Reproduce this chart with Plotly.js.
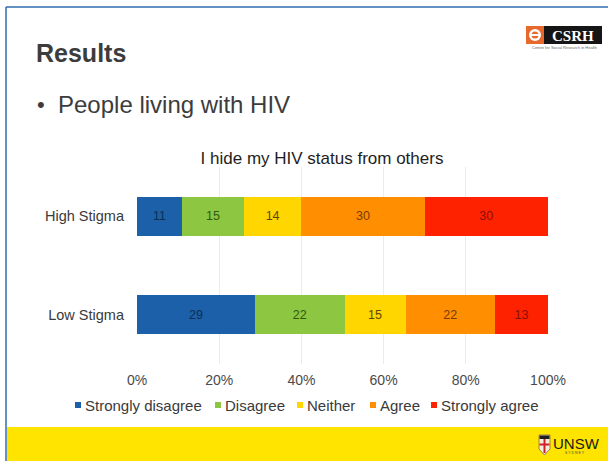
<!DOCTYPE html>
<html>
<head>
<meta charset="utf-8">
<script src="https://cdn.plot.ly/plotly-3.0.1.min.js"></script>
<style>html,body{margin:0;padding:0;background:#fff;}#chart{width:608px;height:461px;}</style>
</head>
<body>
<div id="chart"></div>
<script>
// ---- data ----
const groups = ['High Stigma', 'Low Stigma'];
const seriesNames = ['Strongly disagree', 'Disagree', 'Neither', 'Agree', 'Strongly agree'];
const stronglyDisagree = [11, 29];
const disagree = [15, 22];
const neither = [14, 15];
const agree = [30, 22];
const stronglyAgree = [30, 13];
const xTickVals = [0, 20, 40, 60, 80, 100];
const xTickText = ['0%', '20%', '40%', '60%', '80%', '100%'];
const chartTitle = 'I hide my HIV status from others';
const slideTitle = 'Results';
const bulletText = 'People living with HIV';

// ---- styles ----
const barColors = ['#1B60A8', '#8DC641', '#FFD600', '#FF8F00', '#FF2200'];
const labelColors = ['#0E2E55', '#2D5A10', '#5C4800', '#7A3A00', '#8A0E00'];
const seriesValues = [stronglyDisagree, disagree, neither, agree, stronglyAgree];
const FONT = '"Liberation Sans", Arial, sans-serif';

const W = 608, H = 461;
const M = {l: 137, r: 60, t: 167, b: 97};
const PW = W - M.l - M.r, PH = H - M.t - M.b;
const px = x => (x - M.l) / PW;
const py = y => (H - M.b - y) / PH;

const traces = seriesNames.map((name, i) => ({
  type: 'bar',
  orientation: 'h',
  name: name,
  y: groups,
  x: seriesValues[i],
  text: seriesValues[i].map(String),
  texttemplate: '%{text}',
  textposition: 'inside',
  insidetextanchor: 'middle',
  textfont: {family: FONT, size: 12.5, color: labelColors[i]},
  constraintext: 'none',
  marker: {color: barColors[i], line: {width: 0}},
  hoverinfo: 'skip'
}));

const shapes = [];
const annotations = [];

// yellow footer band
shapes.push({type: 'rect', xref: 'paper', yref: 'paper', x0: px(7), x1: px(608), y0: py(427), y1: py(461), fillcolor: '#FFE400', line: {width: 0}, layer: 'below'});
// slide frame
shapes.push({type: 'line', xref: 'paper', yref: 'paper', x0: px(6), x1: px(608), y0: py(7), y1: py(7), line: {color: '#2F6DB0', width: 1.5}});
shapes.push({type: 'line', xref: 'paper', yref: 'paper', x0: px(6), x1: px(6), y0: py(7), y1: py(461), line: {color: '#2F6DB0', width: 1.5}});

// CSRH logo
shapes.push({type: 'rect', xref: 'paper', yref: 'paper', x0: px(526), x1: px(544), y0: py(26), y1: py(44), fillcolor: '#E8692C', line: {width: 0}});
shapes.push({type: 'circle', xref: 'paper', yref: 'paper', x0: px(529), x1: px(541), y0: py(29), y1: py(41), fillcolor: '#FFFFFF', line: {width: 0}});
shapes.push({type: 'circle', xref: 'paper', yref: 'paper', x0: px(531.5), x1: px(538.5), y0: py(31.5), y1: py(38.5), fillcolor: '#E8692C', line: {width: 0}});
shapes.push({type: 'rect', xref: 'paper', yref: 'paper', x0: px(530), x1: px(540), y0: py(34), y1: py(36), fillcolor: '#FFFFFF', line: {width: 0}});
shapes.push({type: 'rect', xref: 'paper', yref: 'paper', x0: px(544), x1: px(602), y0: py(26), y1: py(44), fillcolor: '#151515', line: {width: 0}});
annotations.push({xref: 'paper', yref: 'paper', x: px(573), y: py(35.5), xanchor: 'center', yanchor: 'middle', showarrow: false,
  text: '<b>CSRH</b>', font: {family: '"Liberation Serif", "DejaVu Serif", serif', size: 15, color: '#FFFFFF'}});
annotations.push({xref: 'paper', yref: 'paper', x: px(564), y: py(47.5), xanchor: 'center', yanchor: 'middle', showarrow: false,
  text: 'Centre for Social Research in Health', font: {family: FONT, size: 4, color: '#666666'}});

// UNSW logo
shapes.push({type: 'path', xref: 'paper', yref: 'paper',
  path: 'M ' + px(539) + ',' + py(435) + ' L ' + px(550) + ',' + py(435) + ' L ' + px(550) + ',' + py(449) + ' L ' + px(544.5) + ',' + py(455) + ' L ' + px(539) + ',' + py(449) + ' Z',
  fillcolor: '#F3EDE0', line: {color: '#8B6B3A', width: 0.8}});
shapes.push({type: 'rect', xref: 'paper', yref: 'paper', x0: px(539.5), x1: px(549.5), y0: py(435.5), y1: py(439), fillcolor: '#1F1F1F', line: {width: 0}});
shapes.push({type: 'rect', xref: 'paper', yref: 'paper', x0: px(543.5), x1: px(545.5), y0: py(439), y1: py(453), fillcolor: '#D21F26', line: {width: 0}});
shapes.push({type: 'rect', xref: 'paper', yref: 'paper', x0: px(539.5), x1: px(549.5), y0: py(443.5), y1: py(445.5), fillcolor: '#D21F26', line: {width: 0}});
annotations.push({xref: 'paper', yref: 'paper', x: px(551), y: py(443), xanchor: 'left', yanchor: 'middle', showarrow: false,
  text: 'UNSW', font: {family: '"Liberation Sans Narrow", "Liberation Sans", sans-serif', size: 15, color: '#1A1A1A'}});
annotations.push({xref: 'paper', yref: 'paper', x: px(575), y: py(452.5), xanchor: 'center', yanchor: 'middle', showarrow: false,
  text: 'S Y D N E Y', font: {family: FONT, size: 3.5, color: '#444444'}});

// slide texts
annotations.push({xref: 'paper', yref: 'paper', x: px(34), y: py(53), xanchor: 'left', yanchor: 'middle', showarrow: false,
  text: '<b>' + slideTitle + '</b>', font: {family: FONT, size: 25, color: '#3C3C3C'}});
annotations.push({xref: 'paper', yref: 'paper', x: px(35), y: py(104), xanchor: 'left', yanchor: 'middle', showarrow: false,
  text: '\u2022', font: {family: FONT, size: 22, color: '#3C3C3C'}});
annotations.push({xref: 'paper', yref: 'paper', x: px(56), y: py(104), xanchor: 'left', yanchor: 'middle', showarrow: false,
  text: bulletText, font: {family: FONT, size: 24, color: '#3C3C3C'}});

// custom legend
const legX = [75, 215, 297, 370, 431];
seriesNames.forEach((name, i) => {
  shapes.push({type: 'rect', xref: 'paper', yref: 'paper', x0: px(legX[i]), x1: px(legX[i] + 6), y0: py(402), y1: py(408), fillcolor: barColors[i], line: {width: 0}});
  annotations.push({xref: 'paper', yref: 'paper', x: px(legX[i] + 8), y: py(405), xanchor: 'left', yanchor: 'middle', showarrow: false,
    text: name, font: {family: FONT, size: 15, color: '#3A3A3A'}});
});

const layout = {
  width: W, height: H,
  margin: M,
  paper_bgcolor: '#FFFFFF',
  plot_bgcolor: '#FFFFFF',
  barmode: 'stack',
  barnorm: 'percent',
  bargap: 0.6,
  showlegend: false,
  title: {text: chartTitle, x: 322 / W, xanchor: 'center', xref: 'container', y: 1 - 158 / H, yanchor: 'middle', yref: 'container',
    font: {family: FONT, size: 17, color: '#1E1E1E'}},
  xaxis: {range: [0, 100], tickvals: xTickVals, ticktext: xTickText, showgrid: true, gridcolor: '#EBEBEB', gridwidth: 1,
    zeroline: false, showline: false, ticks: '', ticklabelstandoff: 6,
    tickfont: {family: FONT, size: 14, color: '#4A4A4A'}, fixedrange: true},
  yaxis: {type: 'category', categoryorder: 'array', categoryarray: groups, autorange: 'reversed',
    showgrid: false, zeroline: false, showline: false, ticks: '', ticklabelstandoff: 12,
    tickfont: {family: FONT, size: 14.5, color: '#3A3A3A'}, fixedrange: true},
  shapes: shapes,
  annotations: annotations,
  font: {family: FONT}
};

Plotly.newPlot('chart', traces, layout, {displayModeBar: false, staticPlot: true});
</script>
</body>
</html>
